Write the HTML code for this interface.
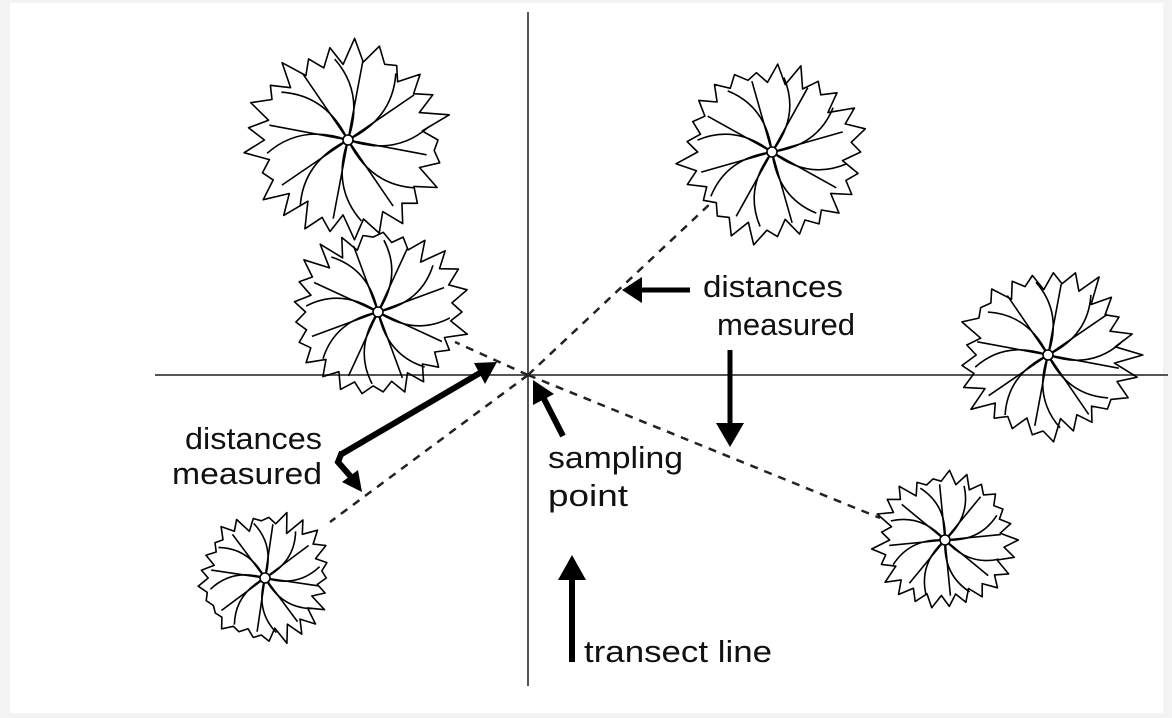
<!DOCTYPE html>
<html><head><meta charset="utf-8">
<style>
html,body{margin:0;padding:0;background:#f3f3f3;}
#c{position:absolute;left:10px;top:3px;width:1153px;height:710px;background:#fff;}
svg{position:absolute;left:0;top:0;}
text{font-family:"Liberation Sans",sans-serif;font-size:31px;fill:#111;}
</style></head><body>
<div id="c"></div>
<svg id="s" width="1172" height="718" viewBox="0 0 1172 718">
<g stroke="#555" stroke-width="2" fill="none">
<line x1="528" y1="12" x2="528" y2="686"/>
<line x1="155" y1="375" x2="1168" y2="375"/>
</g>
<g id="plants" stroke="#000" stroke-width="1.6" fill="none" stroke-linejoin="round"></g>
<g stroke="#222" stroke-width="2.5" stroke-dasharray="8,7" fill="none">
<line x1="528" y1="375" x2="712" y2="202"/>
<line x1="528" y1="375" x2="455" y2="342"/>
<line x1="528" y1="375" x2="330" y2="522"/>
<line x1="528" y1="375" x2="880" y2="518"/>
</g>
<g fill="#000" stroke="#000">
<line x1="690" y1="290" x2="640" y2="290" stroke-width="5"/>
<polygon points="622,290 642,277 642,303" stroke="none"/>
<line x1="730" y1="350" x2="730" y2="425" stroke-width="5"/>
<polygon points="730,447 716,423 744,423" stroke="none"/>
<polyline points="340,455 485,370" stroke-width="6" fill="none"/>
<polygon points="497,362 474,363 485,384" stroke="none"/>
<polyline points="342,452 338,462 352,478" stroke-width="6" fill="none"/>
<polygon points="362,492 342,482 358,470" stroke="none"/>
<line x1="563" y1="436" x2="542" y2="395" stroke-width="6"/>
<polygon points="533,380 533,405 554,394" stroke="none"/>
<line x1="572" y1="662" x2="572" y2="575" stroke-width="6"/>
<polygon points="572,555 558,580 586,580" stroke="none"/>
</g>
<text x="703" y="297" textLength="140" lengthAdjust="spacingAndGlyphs">distances</text>
<text x="717" y="335" textLength="138" lengthAdjust="spacingAndGlyphs">measured</text>
<text x="185" y="449" textLength="137" lengthAdjust="spacingAndGlyphs">distances</text>
<text x="172" y="484" textLength="150" lengthAdjust="spacingAndGlyphs">measured</text>
<text x="548" y="468" textLength="135" lengthAdjust="spacingAndGlyphs">sampling</text>
<text x="548" y="506" textLength="80" lengthAdjust="spacingAndGlyphs">point</text>
<text x="584" y="662" textLength="188" lengthAdjust="spacingAndGlyphs">transect line</text>
</svg>
<script>
(function(){
var seed=7;function r(){seed=(seed*16807)%2147483647;return seed/2147483647;}
var P=[[348,140,100],[378,312,88],[265,578,68],[772,152,92],[1048,355,90],[945,540,70]];
var g=document.getElementById('plants');var ns='http://www.w3.org/2000/svg';
function add(t,a){var e=document.createElementNS(ns,t);for(var k in a)e.setAttribute(k,a[k]);g.appendChild(e);return e;}
P.forEach(function(p){
var cx=p[0],cy=p[1],R=p[2],n=50,d='';
for(var i=0;i<n;i++){var a=i/n*Math.PI*2;var rr=R*(i%2?0.74+r()*0.14:0.9+r()*0.16);
var x=cx+Math.cos(a)*rr,y=cy+Math.sin(a)*rr*0.97;d+=(i?'L':'M')+x.toFixed(1)+','+y.toFixed(1);}
add('path',{d:d+'Z'});
var m=8,off=r()*6;
for(var j=0;j<m;j++){var a=off+j/m*Math.PI*2;var ex=cx+Math.cos(a)*R*0.82,ey=cy+Math.sin(a)*R*0.82;
var b=a+0.5;var qx=cx+Math.cos(b)*R*0.5,qy=cy+Math.sin(b)*R*0.5;
add('path',{d:'M'+cx+','+cy+'Q'+qx.toFixed(1)+','+qy.toFixed(1)+' '+ex.toFixed(1)+','+ey.toFixed(1)});
var a2=a+0.35;add('line',{x1:cx,y1:cy,x2:(cx+Math.cos(a2)*R*0.8).toFixed(1),y2:(cy+Math.sin(a2)*R*0.8).toFixed(1)});}
add('circle',{cx:cx,cy:cy,r:5,fill:'#fff'});
});
})();
</script>
</body></html>
